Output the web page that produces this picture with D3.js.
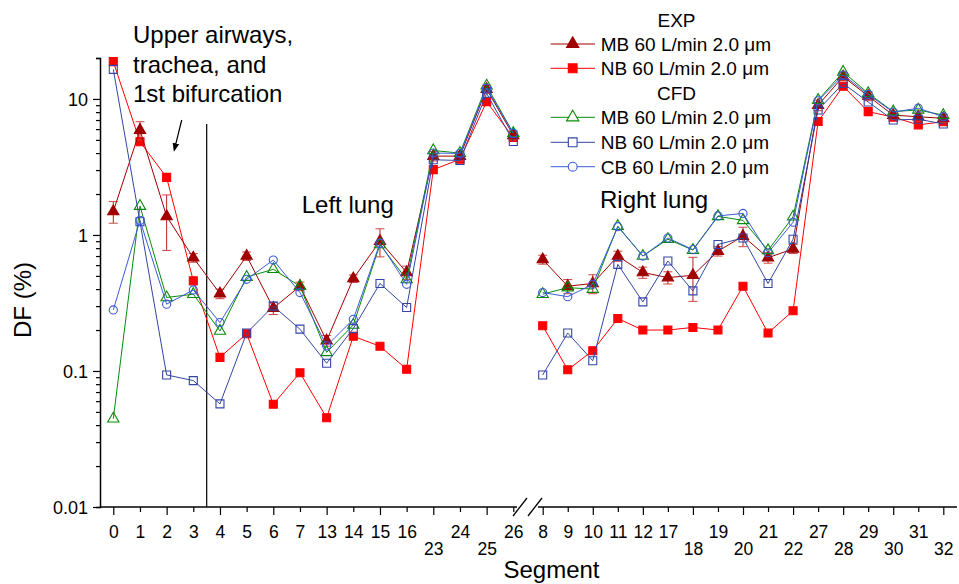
<!DOCTYPE html>
<html>
<head>
<meta charset="utf-8">
<script src="https://cdnjs.cloudflare.com/ajax/libs/d3/7.8.5/d3.min.js"></script>
<style>
  body { margin: 0; background: #fff; }
  svg text { font-family: "Liberation Sans", Arial, sans-serif; fill: #000; }
</style>
</head>
<body>
<script>
// SVG area
var svgWidth = 959;
var svgHeight = 584;

// Segment labels for the two halves of the x axis
var leftSegments = ["0", "1", "2", "3", "4", "5", "6", "7", "13", "14", "15", "16", "23", "24", "25", "26"];
var rightSegments = ["8", "9", "10", "11", "12", "17", "18", "19", "20", "21", "22", "27", "28", "29", "30", "31", "32"];
// labels that sit on the second (lower) row
var lowerLabels = ["23", "25", "18", "20", "22", "28", "30", "32"];

// EXP MB (with error bars)
var expMbLeft = [1.49, 5.9, 1.37, 0.68, 0.37, 0.70, 0.29, 0.42, 0.167, 0.478, 0.90, 0.53, 3.8, 3.8, 11.8, 5.4];
var expMbRight = [0.66, 0.42, 0.44, 0.70, 0.53, 0.486, 0.505, 0.76, 0.98, 0.68, 0.79, 9.0, 14.6, 10.5, 7.6, 7.4, 7.2];
var expMbErrLeft = [0.27, 0.9, 0.6, 0.05, 0.03, 0.05, 0.03, 0.03, 0.015, 0.03, 0.21, 0.06, 0.3, 0.3, 0.8, 0.4];
var expMbErrRight = [0.05, 0.05, 0.07, 0.06, 0.05, 0.05, 0.18, 0.06, 0.16, 0.06, 0.06, 0.8, 1.0, 0.8, 0.5, 0.5, 0.5];

// EXP NB
var expNbLeft = [18.8, 4.85, 2.65, 0.46, 0.126, 0.188, 0.057, 0.097, 0.0453, 0.18, 0.152, 0.103, 3.02, 3.6, 9.55, 5.2];
var expNbRight = [0.215, 0.102, 0.141, 0.243, 0.2, 0.2, 0.209, 0.2, 0.42, 0.19, 0.277, 6.82, 12.4, 8.07, 7.35, 6.45, 6.8];

// CFD MB
var cfdMbLeft = [0.0445, 1.63, 0.347, 0.367, 0.197, 0.49, 0.559, 0.42, 0.137, 0.218, 0.85, 0.47, 4.18, 4.0, 12.5, 5.6];
var cfdMbRight = [0.367, 0.41, 0.40, 1.16, 0.70, 0.93, 0.774, 1.37, 1.28, 0.77, 1.36, 9.8, 15.8, 11.0, 8.07, 8.3, 7.6];

// CFD NB
var cfdNbLeft = [16.5, 1.25, 0.0935, 0.085, 0.0573, 0.19, 0.30, 0.203, 0.114, 0.205, 0.44, 0.293, 3.57, 3.53, 11.0, 4.87];
var cfdNbRight = [0.0935, 0.19, 0.119, 0.608, 0.322, 0.643, 0.388, 0.852, 0.95, 0.44, 0.93, 8.3, 13.0, 9.5, 7.0, 7.1, 6.55];

// CFD CB
var cfdCbLeft = [0.281, 1.28, 0.31, 0.394, 0.227, 0.472, 0.654, 0.377, 0.153, 0.24, 0.87, 0.434, 4.0, 3.98, 12.0, 5.6];
var cfdCbRight = [0.377, 0.352, 0.434, 1.15, 0.70, 0.95, 0.78, 1.38, 1.44, 0.74, 1.24, 9.7, 15.0, 10.8, 8.0, 8.55, 7.4];

// y axis tick labels (decades)
var yDecades = [0.01, 0.1, 1, 10];
var yDecadeLabels = ["0.01", "0.1", "1", "10"];

var svg = d3.select("body")
  .append("svg")
  .attr("width", svgWidth)
  .attr("height", svgHeight);

// Scales
var yScale = d3.scaleLog().domain([0.01, 20]).range([507, 58]);
var xLeft = d3.scalePoint().domain(leftSegments).range([113.3, 513.3]);
var xRight = d3.scalePoint().domain(rightSegments).range([542.7, 943.3]);

// ---- Y axis with minor ticks ----
var yTicks = [];
yDecades.forEach(function(d) {
  d3.range(1, 10).forEach(function(k) {
    if (d * k <= 20.0001) yTicks.push(d * k);
  });
});

var leftAxis = d3.axisLeft(yScale)
  .tickValues(yTicks)
  .tickSizeOuter(0)
  .tickSize(4)
  .tickFormat(function(d, i) { return i % 9 === 0 ? yDecadeLabels[i / 9] : ""; });

var yAxisG = svg.append("g")
  .attr("transform", "translate(100,0)")
  .call(leftAxis);
yAxisG.select(".domain").attr("stroke", "#000").attr("stroke-width", 1.5);
yAxisG.selectAll(".tick line")
  .attr("stroke", "#000")
  .attr("stroke-width", 1.2)
  .attr("x2", function(d, i) { return i % 9 === 0 ? -7 : -4; });
yAxisG.selectAll(".tick text")
  .attr("x", -12)
  .attr("dy", "0.36em")
  .style("font-size", "18px")
  .style("font-family", "'Liberation Sans', Arial, sans-serif");

// ---- X axes (two halves with a break) ----
function drawXAxis(scale) {
  var g = svg.append("g")
    .attr("transform", "translate(0,507)")
    .call(d3.axisBottom(scale).tickSizeOuter(0));
  g.select(".domain").remove();
  g.selectAll(".tick line")
    .attr("stroke", "#000")
    .attr("stroke-width", 1.2)
    .attr("y2", function(d, i) { return i % 2 === 0 ? 8 : 5; });
  g.selectAll(".tick text")
    .attr("y", function(d) { return lowerLabels.indexOf(d) >= 0 ? 48 : 31.3; })
    .attr("dy", 0)
    .style("font-size", "17.5px")
    .style("font-family", "'Liberation Sans', Arial, sans-serif");
}
drawXAxis(xLeft);
drawXAxis(xRight);

svg.append("line").attr("x1", 100).attr("x2", 517).attr("y1", 507).attr("y2", 507)
  .attr("stroke", "#000").attr("stroke-width", 1.5);
svg.append("line").attr("x1", 538).attr("x2", 957).attr("y1", 507).attr("y2", 507)
  .attr("stroke", "#000").attr("stroke-width", 1.5);
// break marks
[[513, 527], [528, 542]].forEach(function(b) {
  svg.append("line").attr("x1", b[0]).attr("y1", 516).attr("x2", b[1]).attr("y2", 498)
    .attr("stroke", "#000").attr("stroke-width", 1.3);
});

// separator line for upper airways
svg.append("line").attr("x1", 206.7).attr("x2", 206.7).attr("y1", 124).attr("y2", 507)
  .attr("stroke", "#000").attr("stroke-width", 1.2);

// ---- Series ----
var series = [
  { left: expNbLeft, right: expNbRight, color: "#ff0000", symbol: d3.symbolSquare, size: 64, fill: true },
  { left: expMbLeft, right: expMbRight, color: "#a00000", symbol: d3.symbolTriangle, size: 55, fill: true,
    errLeft: expMbErrLeft, errRight: expMbErrRight },
  { left: cfdMbLeft, right: cfdMbRight, color: "#0a8a0a", symbol: d3.symbolTriangle, size: 55, fill: false },
  { left: cfdNbLeft, right: cfdNbRight, color: "#3345a5", symbol: d3.symbolSquare, size: 64, fill: false },
  { left: cfdCbLeft, right: cfdCbRight, color: "#3b5bd8", symbol: d3.symbolCircle, size: 52, fill: false }
];

function drawPart(s, values, errs, segs, scale) {
  var drawLine = d3.line()
    .x(function(d, i) { return scale(segs[i]); })
    .y(function(d) { return yScale(d); });

  if (errs) {
    values.forEach(function(v, i) {
      var x = scale(segs[i]);
      var y1 = yScale(v + errs[i]);
      var y2 = yScale(Math.max(v - errs[i], 0.011));
      svg.append("line").attr("x1", x).attr("x2", x).attr("y1", y1).attr("y2", y2)
        .attr("stroke", "#b82020").attr("stroke-width", 1);
      [y1, y2].forEach(function(yy) {
        svg.append("line").attr("x1", x - 4.5).attr("x2", x + 4.5).attr("y1", yy).attr("y2", yy)
          .attr("stroke", "#d04545").attr("stroke-width", 1);
      });
    });
  }

  svg.append("path")
    .attr("d", drawLine(values))
    .attr("fill", "none")
    .attr("stroke", s.color)
    .attr("stroke-width", 1);

  svg.selectAll(null)
    .data(values)
    .enter()
    .append("path")
    .attr("d", d3.symbol().type(s.symbol).size(s.size))
    .attr("transform", function(d, i) { return "translate(" + scale(segs[i]) + "," + yScale(d) + ")"; })
    .attr("fill", s.fill ? s.color : "none")
    .attr("stroke", s.color)
    .attr("stroke-width", 1.1);
}

series.forEach(function(s) {
  drawPart(s, s.left, s.errLeft, leftSegments, xLeft);
  drawPart(s, s.right, s.errRight, rightSegments, xRight);
});

// ---- Legend ----
var legendRows = [
  { label: "MB 60 L/min 2.0 μm", s: series[1], y: 44 },
  { label: "NB 60 L/min 2.0 μm", s: series[0], y: 68.3 },
  { label: "MB 60 L/min 2.0 μm", s: series[2], y: 117.3 },
  { label: "NB 60 L/min 2.0 μm", s: series[3], y: 142.3 },
  { label: "CB 60 L/min 2.0 μm", s: series[4], y: 166.7 }
];
svg.append("text").attr("x", 676.5).attr("y", 27).attr("text-anchor", "middle")
  .style("font-size", "19px").text("EXP");
svg.append("text").attr("x", 676.5).attr("y", 100.3).attr("text-anchor", "middle")
  .style("font-size", "19px").text("CFD");
legendRows.forEach(function(r) {
  svg.append("line").attr("x1", 550.7).attr("x2", 595).attr("y1", r.y).attr("y2", r.y)
    .attr("stroke", r.s.color).attr("stroke-width", 1);
  svg.append("path")
    .attr("d", d3.symbol().type(r.s.symbol).size(r.s.size * 1.2))
    .attr("transform", "translate(572.7," + r.y + ")")
    .attr("fill", r.s.fill ? r.s.color : "#fff")
    .attr("stroke", r.s.color)
    .attr("stroke-width", 1.1);
  svg.append("text").attr("x", 600.7).attr("y", r.y + 7)
    .style("font-size", "19px").text(r.label);
});

// ---- Annotations ----
var noteLines = ["Upper airways,", "trachea, and", "1st bifurcation"];
noteLines.forEach(function(t, i) {
  svg.append("text").attr("x", 133).attr("y", 43 + i * 29.5)
    .style("font-size", "24px").text(t);
});

svg.append("defs").append("marker")
  .attr("id", "arrowhead")
  .attr("viewBox", "0 0 10 10")
  .attr("refX", 8).attr("refY", 5)
  .attr("markerWidth", 7).attr("markerHeight", 7)
  .attr("orient", "auto")
  .append("path").attr("d", "M0,1 L10,5 L0,9 z").attr("fill", "#000");
svg.append("line").attr("x1", 181.7).attr("y1", 120).attr("x2", 174.3).attr("y2", 150)
  .attr("stroke", "#000").attr("stroke-width", 1.2).attr("marker-end", "url(#arrowhead)");

svg.append("text").attr("x", 301.7).attr("y", 213.3).style("font-size", "24px").text("Left lung");
svg.append("text").attr("x", 600).attr("y", 208.3).style("font-size", "24px").text("Right lung");

// axis titles
svg.append("text").attr("x", 551.5).attr("y", 578).attr("text-anchor", "middle")
  .style("font-size", "24px").text("Segment");
svg.append("text").attr("transform", "translate(31,300) rotate(-90)").attr("text-anchor", "middle")
  .style("font-size", "24px").text("DF (%)");
</script>
</body>
</html>
